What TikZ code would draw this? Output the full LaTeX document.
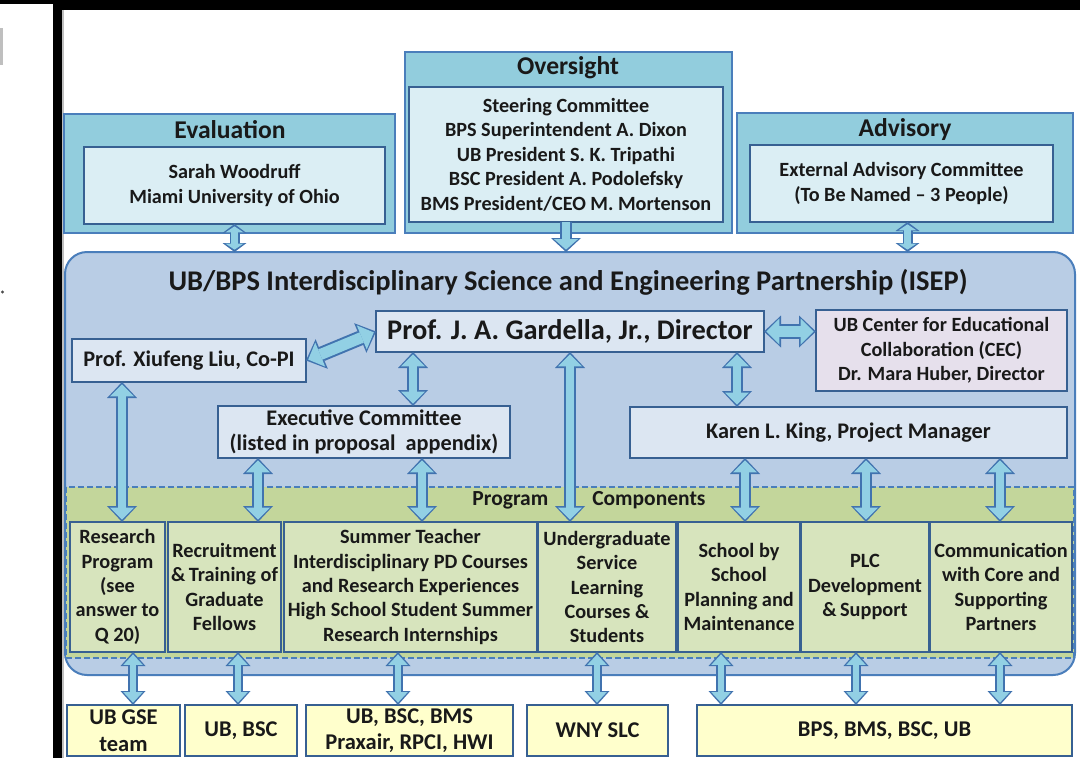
\documentclass[tikz,border=0pt]{standalone}
\usepackage{fontspec}
\setmainfont{Carlito}
\usetikzlibrary{arrows.meta,calc}
\definecolor{hdrfill}{RGB}{146,205,221}
\definecolor{hdrline}{RGB}{74,126,187}
\definecolor{innfill}{RGB}{219,238,244}
\definecolor{innline}{RGB}{55,96,146}
\definecolor{mainfill}{RGB}{185,205,229}
\definecolor{mainline}{RGB}{74,126,187}
\definecolor{boxfill}{RGB}{220,230,242}
\definecolor{cecfill}{RGB}{230,224,236}
\definecolor{bandfill}{RGB}{195,214,155}
\definecolor{compfill}{RGB}{215,228,189}
\definecolor{yelfill}{RGB}{255,255,204}
\definecolor{arrfill}{RGB}{146,208,228}
\definecolor{arrline}{RGB}{65,115,175}
\definecolor{txt}{RGB}{25,25,25}
\newcommand\myBody{\fontsize{20.2}{24.5}\selectfont\bfseries}
\newcommand\myMid{\fontsize{22.3}{25.5}\selectfont\bfseries}
\newcommand\myComp{\fontsize{20.3}{24.3}\selectfont\bfseries}
\newcommand\myBot{\fontsize{22.5}{26.5}\selectfont\bfseries}
\newcommand\myTtl{\fontsize{25.6}{28}\selectfont\bfseries}
\newcommand\myBig{\fontsize{28.5}{32}\selectfont\bfseries}
\newcommand\myDir{\fontsize{28.4}{32}\selectfont\bfseries}
\newcommand\mybox[7]{\node[#1, inner sep=0pt, outer sep=0pt, minimum width={(#5-#3)*1pt}, minimum height={(#6-#4)*1pt}] (#2) at ({(#3+#5)/2},{(#4+#6)/2}) {#7};}
\tikzset{
  hdr/.style={draw=hdrline, line width=2pt, fill=hdrfill},
  inn/.style={draw=innline, line width=2.5pt, fill=innfill, align=center, font=\myBody, text=txt},
  mainbox/.style={draw=mainline, line width=2pt, fill=mainfill, rounded corners=22pt},
  bandbox/.style={draw=mainline, line width=1.6pt, dash pattern=on 6pt off 3pt, fill=bandfill},
  ibox/.style={draw=innline, line width=2.5pt, fill=boxfill, align=center, font=\myMid, text=txt},
  cbox/.style={draw=innline, line width=2.5pt, fill=cecfill, align=center, font=\myBody, text=txt},
  comp/.style={draw=innline, line width=2.5pt, fill=compfill, align=center, font=\myComp, text=txt},
  yel/.style={draw=innline, line width=2.5pt, fill=yelfill, align=center, font=\myBot, text=txt},
  ttl/.style={font=\myTtl, inner sep=0pt, text=txt},
  blkgen/.style n args={6}{
    preaction={draw=arrline, line width=#1,
      arrows={Triangle[length=#2,width=#3,line width=0pt]-Triangle[length=#2,width=#3,line width=0pt]}},
    postaction={draw=arrfill, line width=#4, shorten <=2.4pt, shorten >=2.4pt,
      arrows={Triangle[length=#5,width=#6,line width=0pt]-Triangle[length=#5,width=#6,line width=0pt]}}},
  blkone/.style n args={6}{
    preaction={draw=arrline, line width=#1,
      arrows={-Triangle[length=#2,width=#3,line width=0pt]}},
    postaction={draw=arrfill, line width=#4, shorten >=2.4pt,
      arrows={-Triangle[length=#5,width=#6,line width=0pt]}}},
  blk/.style={blkgen={12pt}{16pt}{30pt}{8pt}{12pt}{24pt}},
  blkbig/.style={blkgen={15pt}{17pt}{32pt}{11pt}{13pt}{26pt}},
  blks/.style={blkgen={10pt}{14pt}{25pt}{6.5pt}{10.5pt}{19.5pt}},
  blkt/.style={blkgen={10pt}{9pt}{24pt}{6.5pt}{6pt}{18pt}},
  blkdown/.style={blkone={12pt}{14pt}{30pt}{8pt}{10.5pt}{24pt}},
}
\begin{document}
\begin{tikzpicture}[x=1pt,y=-1pt]
\useasboundingbox (0,0) rectangle (1080,758);
\fill[white] (0,0) rectangle (1080,758);
% frame
\fill[black] (53,0) rectangle (1080,10);
\fill[black] (0,0) rectangle (53,4);
\fill[black] (53,0) rectangle (62,758);
\fill[black!25] (62,10) rectangle (63.5,758);
\fill[black!25] (0,28) rectangle (3,65);
\fill[black!70] (2.5,292) circle (1.6);

% header boxes
\mybox{hdr}{evo}{64}{114}{395}{233}{}
\node[ttl] (evt) at (230,130) {Evaluation};
\mybox{inn}{evi}{84}{147}{385}{224}{Sarah Woodruff\\Miami University of Ohio}

\mybox{hdr}{ovo}{405}{52}{732}{233}{}
\node[ttl] (ovt) at (568,68) {Oversight};
\mybox{inn}{ovi}{409}{87}{723}{222}{Steering Committee\\BPS Superintendent A. Dixon\\UB President S. K. Tripathi\\BSC President A. Podolefsky\\BMS President/CEO M. Mortenson}

\mybox{hdr}{ado}{737}{113}{1073}{233}{}
\node[ttl] (adt) at (905,130) {Advisory};
\mybox{inn}{adi}{750}{145}{1053}{222}{External Advisory Committee\\(To Be Named – 3 People)}

% main box
\mybox{mainbox}{isep}{65}{252}{1075}{675}{}
\node[font=\myBig, inner sep=0pt, text=txt] (isept) at (568,282) {UB/BPS Interdisciplinary Science and Engineering Partnership (ISEP)};
\mybox{bandbox}{band}{66}{487}{1074}{658}{}
\node[font=\fontsize{21.5}{24}\selectfont\bfseries, inner sep=0pt, text=txt] (pcl) at (589,500) {Program\hspace{44pt}Components};

\mybox{ibox}{dir}{376}{311}{764}{352}{\myDir Prof. J. A. Gardella, Jr., Director}
\mybox{ibox}{liu}{72}{339}{306}{382}{Prof. Xiufeng Liu, Co-PI}
\mybox{cbox}{cec}{816}{310}{1067}{391}{UB Center for Educational\\Collaboration (CEC)\\Dr. Mara Huber, Director}
\mybox{ibox}{exec}{218}{406}{510}{458}{Executive Committee\\(listed in proposal\ \ appendix)}
\mybox{ibox}{king}{630}{407}{1067}{458}{Karen L. King, Project Manager}

% components
\mybox{comp}{rp}{70}{522}{165}{652}{Research\\Program\\(see\\answer to\\Q 20)}
\mybox{comp}{rtg}{168}{522}{281}{652}{Recruitment\\\&\,Training of\\Graduate\\Fellows}
\mybox{comp}{stp}{284}{522}{537}{652}{Summer Teacher\\Interdisciplinary PD Courses\\and Research Experiences\\High School Student Summer\\Research Internships}
\mybox{comp}{ugs}{538}{522}{676}{652}{Undergraduate\\Service\\Learning\\Courses \&\\Students}
\mybox{comp}{sbs}{678}{522}{800}{652}{School by\\School\\Planning and\\Maintenance}
\mybox{comp}{plc}{801}{522}{929}{652}{PLC\\Development\\\&\,Support}
\mybox{comp}{com}{930}{522}{1072}{652}{Communication\\with Core and\\Supporting\\Partners}

% bottom partners
\mybox{yel}{gse}{67}{705}{180}{756}{UB GSE\\team}
\mybox{yel}{ubb}{185}{705}{297}{756}{UB, BSC}
\mybox{yel}{ubm}{306}{705}{513}{756}{UB, BSC, BMS\\Praxair, RPCI, HWI}
\mybox{yel}{wny}{527}{705}{668}{756}{WNY SLC}
\mybox{yel}{bps}{697}{705}{1072}{756}{BPS, BMS, BSC, UB}

% arrows top
\path[blkt] (evi.south) -- (evi.south |- isep.north);
\path[blkdown] (ovi.south) -- (ovi.south |- isep.north);
\path[blkt] ([xshift=6pt]adi.south) -- ([xshift=6pt]adi.south |- isep.north);

% arrows inside
\path[blkbig] (liu.east) -- (dir.west);
\path[blkbig] (dir.east) -- (cec.west |- dir.east);
\path[blk] ([xshift=-157pt]dir.south) -- ([xshift=-157pt]dir.south |- exec.north);
\path[blk] (dir.south) -- (dir.south |- ugs.north);
\path[blk] ([xshift=167pt]dir.south) -- ([xshift=167pt]dir.south |- king.north);
\path[blk] ([xshift=4.5pt]rp.north) -- ([xshift=4.5pt]rp.north |- liu.south);
\path[blk] ([xshift=33.5pt]rtg.north) -- ([xshift=33.5pt]rtg.north |- exec.south);
\path[blk] ([xshift=11.5pt]stp.north) -- ([xshift=11.5pt]stp.north |- exec.south);
\path[blk] ([xshift=6pt]sbs.north) -- ([xshift=6pt]sbs.north |- king.south);
\path[blk] ([xshift=1pt]plc.north) -- ([xshift=1pt]plc.north |- king.south);
\path[blk] ([xshift=-1pt]com.north) -- ([xshift=-1pt]com.north |- king.south);

% arrows bottom
\path[blks] ([xshift=15.5pt]rp.south) -- ([xshift=15.5pt]rp.south |- gse.north);
\path[blks] ([xshift=13.5pt]rtg.south) -- ([xshift=13.5pt]rtg.south |- ubb.north);
\path[blks] ([xshift=-12.5pt]stp.south) -- ([xshift=-12.5pt]stp.south |- ubm.north);
\path[blks] ([xshift=-10pt]ugs.south) -- ([xshift=-10pt]ugs.south |- wny.north);
\path[blks] ([xshift=-18pt]sbs.south) -- ([xshift=-18pt]sbs.south |- bps.north);
\path[blks] ([xshift=-9pt]plc.south) -- ([xshift=-9pt]plc.south |- bps.north);
\path[blks] ([xshift=-1pt]com.south) -- ([xshift=-1pt]com.south |- bps.north);
\end{tikzpicture}
\end{document}
